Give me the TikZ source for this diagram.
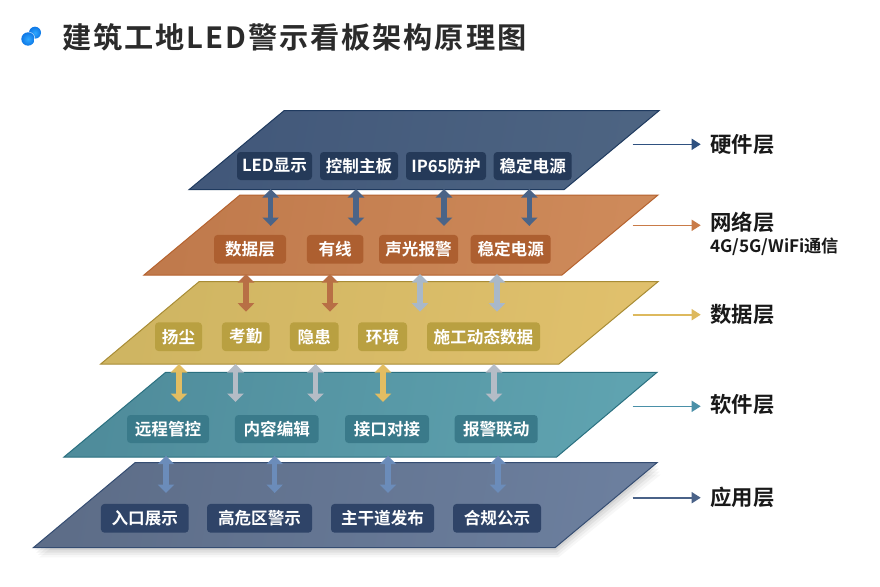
\documentclass[tikz,border=0pt]{standalone}
\usepackage{fontspec}
\setmainfont[BoldFont={Noto Sans CJK SC Bold}]{Noto Sans CJK SC}
\usetikzlibrary{arrows.meta}
\definecolor{hwE}{HTML}{1F3A5F}\definecolor{hwL}{HTML}{42587A}\definecolor{hwR}{HTML}{4D6482}\definecolor{hwC}{HTML}{253A59}
\definecolor{nwE}{HTML}{B5622E}\definecolor{nwL}{HTML}{C07A4C}\definecolor{nwR}{HTML}{CE8A5A}\definecolor{nwC}{HTML}{AD5F30}
\definecolor{daE}{HTML}{A88C35}\definecolor{daL}{HTML}{CFB562}\definecolor{daR}{HTML}{E0C06C}\definecolor{daC}{HTML}{B9A041}
\definecolor{swE}{HTML}{2A7080}\definecolor{swL}{HTML}{4F8C9B}\definecolor{swR}{HTML}{5FA3B0}\definecolor{swC}{HTML}{3A7A8A}
\definecolor{apE}{HTML}{354D72}\definecolor{apL}{HTML}{5D6D88}\definecolor{apR}{HTML}{6C7F9E}\definecolor{apC}{HTML}{2F4468}
\definecolor{aBlue}{HTML}{4B6487}\definecolor{aBrown}{HTML}{B86F45}\definecolor{aPale}{HTML}{A9B8C9}
\definecolor{aGold}{HTML}{E2BD62}\definecolor{aGrey}{HTML}{B5BCC6}\definecolor{aSky}{HTML}{6B8CBA}
\definecolor{sHw}{HTML}{2F5180}\definecolor{sNw}{HTML}{C97B48}\definecolor{sDa}{HTML}{DDB95E}\definecolor{sSw}{HTML}{4A90A8}\definecolor{sAp}{HTML}{4A6288}
\definecolor{icoA}{HTML}{2FA8FF}\definecolor{icoB}{HTML}{0F78E6}
\tikzset{
  chip/.style={fill=#1,rounded corners=3.5pt,inner sep=0pt,text=white,font=\fontsize{16.6}{16.6}\selectfont\bfseries,anchor=center},
  plane/.style n args={3}{draw=#1,line width=1pt,line join=miter,left color=#2,right color=#3,shading angle=80},
  dbl/.style={line width=5.5pt,draw=#1,{Triangle[length=8.5pt,width=16pt]}-{Triangle[length=8.5pt,width=16pt]}},
  side/.style={line width=1.6pt,draw=#1,-{Triangle[length=9pt,width=11pt]}},
  lab/.style={anchor=west,inner sep=0pt,text=black!90,font=\fontsize{21.4}{21.4}\selectfont\bfseries},
}
\begin{document}
\begin{tikzpicture}[x=1pt,y=-1pt]
\useasboundingbox (0,0) rectangle (880,586);
\fill[white] (0,0) rectangle (880,586);

% title
\shade[inner color=icoA,outer color=icoB] (35,32.7) circle (6);
\fill[white,opacity=0.6] (28,39) circle (7.4);
\shade[inner color=icoA,outer color=icoB] (28,39) circle (6.7);
\node[anchor=west,inner sep=0pt,text=black!83,font=\fontsize{29.2}{30}\selectfont\bfseries] (title) at (62,37)
  {\addfontfeature{LetterSpace=6.6}建筑工地LED警示看板架构原理图};

% soft shadow under the lowest plane
\foreach \d/\o in {12/0.03,9/0.04,6/0.05,3/0.06}{
  \fill[black,opacity=\o] (135+\d*0.5,462.7+\d) -- (657+\d*0.3,462.7+\d) -- (555+\d*0.3,547.7+\d*0.8) -- (33.3+\d*0.5,547.7+\d*0.8) -- cycle;
}

% planes
\path[plane={apE}{apL}{apR}] (135,462.7) coordinate (ap1) -- (657,462.7) coordinate (ap2) -- (555,547.7) coordinate (ap3) -- (33.3,547.7) coordinate (ap4) -- cycle;
\path[plane={swE}{swL}{swR}] (165.7,372.3) coordinate (sw1) -- (657,372.3) coordinate (sw2) -- (556.7,457) coordinate (sw3) -- (64,457) coordinate (sw4) -- cycle;
\path[plane={daE}{daL}{daR}] (199,281.7) coordinate (da1) -- (658,281.7) coordinate (da2) -- (559,364) coordinate (da3) -- (100.7,364) coordinate (da4) -- cycle;
\path[plane={nwE}{nwL}{nwR}] (240,195) coordinate (nw1) -- (658,195) coordinate (nw2) -- (562,275) coordinate (nw3) -- (144,275) coordinate (nw4) -- cycle;
\path[plane={hwE}{hwL}{hwR}] (284,110.7) coordinate (hw1) -- (659,110.7) coordinate (hw2) -- (564,189.7) coordinate (hw3) -- (189,189.7) coordinate (hw4) -- cycle;

% chips: hardware
\node[chip=hwC,minimum width=75pt,minimum height=28pt] (h1) at (274.5,166) {LED显示};
\node[chip=hwC,minimum width=78pt,minimum height=28pt] (h2) at (359,166) {控制主板};
\node[chip=hwC,minimum width=80pt,minimum height=28pt] (h3) at (446,166) {IP65防护};
\node[chip=hwC,minimum width=78pt,minimum height=28pt] (h4) at (532.7,166) {稳定电源};
% chips: network
\node[chip=nwC,minimum width=72pt,minimum height=28.7pt] (n1) at (250,249.3) {数据层};
\node[chip=nwC,minimum width=56.5pt,minimum height=28.7pt] (n2) at (335.2,249.3) {有线};
\node[chip=nwC,minimum width=79pt,minimum height=28.7pt] (n3) at (418.5,249.3) {声光报警};
\node[chip=nwC,minimum width=80pt,minimum height=28.7pt] (n4) at (510.7,249.3) {稳定电源};
% chips: data
\node[chip=daC,minimum width=47pt,minimum height=28.7pt] (d1) at (178.5,336.7) {扬尘};
\node[chip=daC,minimum width=47.7pt,minimum height=28.7pt] (d2) at (245.8,336.7) {考勤};
\node[chip=daC,minimum width=48.7pt,minimum height=28.7pt] (d3) at (314.3,336.7) {隐患};
\node[chip=daC,minimum width=49pt,minimum height=28.7pt] (d4) at (382.5,336.7) {环境};
\node[chip=daC,minimum width=113pt,minimum height=28.7pt] (d5) at (483.5,336.7) {施工动态数据};
% chips: software
\node[chip=swC,minimum width=82pt,minimum height=28pt] (s1) at (168,429) {远程管控};
\node[chip=swC,minimum width=83.7pt,minimum height=28pt] (s2) at (276.8,429) {内容编辑};
\node[chip=swC,minimum width=84pt,minimum height=28pt] (s3) at (387,429) {接口对接};
\node[chip=swC,minimum width=83pt,minimum height=28pt] (s4) at (496.2,429) {报警联动};
% chips: application
\node[chip=apC,minimum width=87.7pt,minimum height=28.7pt] (a1) at (144.8,518.3) {入口展示};
\node[chip=apC,minimum width=105pt,minimum height=28.7pt] (a2) at (259.5,518.3) {高危区警示};
\node[chip=apC,minimum width=103pt,minimum height=28.7pt] (a3) at (382.5,518.3) {主干道发布};
\node[chip=apC,minimum width=88pt,minimum height=28.7pt] (a4) at (497,518.3) {合规公示};

% double arrows between planes
\foreach \n/\x/\c in {hn1/270.7/aBlue,hn2/356/aBlue,hn3/444/aBlue,hn4/529.3/aBlue}{
  \coordinate (\n t) at (\x,189); \coordinate (\n b) at (\x,226);
  \draw[dbl=\c] (\n t) -- (\n b);}
\foreach \n/\x/\c in {nd1/246/aBrown,nd2/330/aBrown,nd3/420/aPale,nd4/497/aPale}{
  \coordinate (\n t) at (\x,274); \coordinate (\n b) at (\x,311.7);
  \draw[dbl=\c] (\n t) -- (\n b);}
\foreach \n/\x/\c in {ds1/179/aGold,ds2/235.5/aGrey,ds3/315.5/aGrey,ds4/383/aGold,ds5/494/aGrey}{
  \coordinate (\n t) at (\x,364); \coordinate (\n b) at (\x,402);
  \draw[dbl=\c] (\n t) -- (\n b);}
\foreach \n/\x/\c in {sa1/166/aSky,sa2/274.7/aSky,sa3/388/aSky,sa4/498/aSky}{
  \coordinate (\n t) at (\x,455.7); \coordinate (\n b) at (\x,493);
  \draw[dbl=\c] (\n t) -- (\n b);}

% side labels
\node[lab] (lh) at (710,144.3) {硬件层};
\node[lab] (ln) at (710,222.5) {网络层};
\node[anchor=west,inner sep=0pt,text=black!90,font=\fontsize{17.2}{18}\selectfont\bfseries] (lnsub) at (710,246.5) {4G/5G/WiFi通信};
\node[lab] (ld) at (710,314.5) {数据层};
\node[lab] (ls) at (710,404.5) {软件层};
\node[lab] (la) at (710,497) {应用层};
\coordinate (oh) at (632.7,144.3); \coordinate (eh) at (700.7,144.3);
\coordinate (on) at (632.7,225.3); \coordinate (en) at (700.7,225.3);
\coordinate (od) at (632.7,314.7); \coordinate (ed) at (700.7,314.7);
\coordinate (os) at (632.7,406.3); \coordinate (es) at (700.7,406.3);
\coordinate (oa) at (632.7,497.7); \coordinate (ea) at (700.7,497.7);
\draw[side=sHw] (oh) -- (eh);
\draw[side=sNw] (on) -- (en);
\draw[side=sDa] (od) -- (ed);
\draw[side=sSw] (os) -- (es);
\draw[side=sAp] (oa) -- (ea);
\end{tikzpicture}
\end{document}
